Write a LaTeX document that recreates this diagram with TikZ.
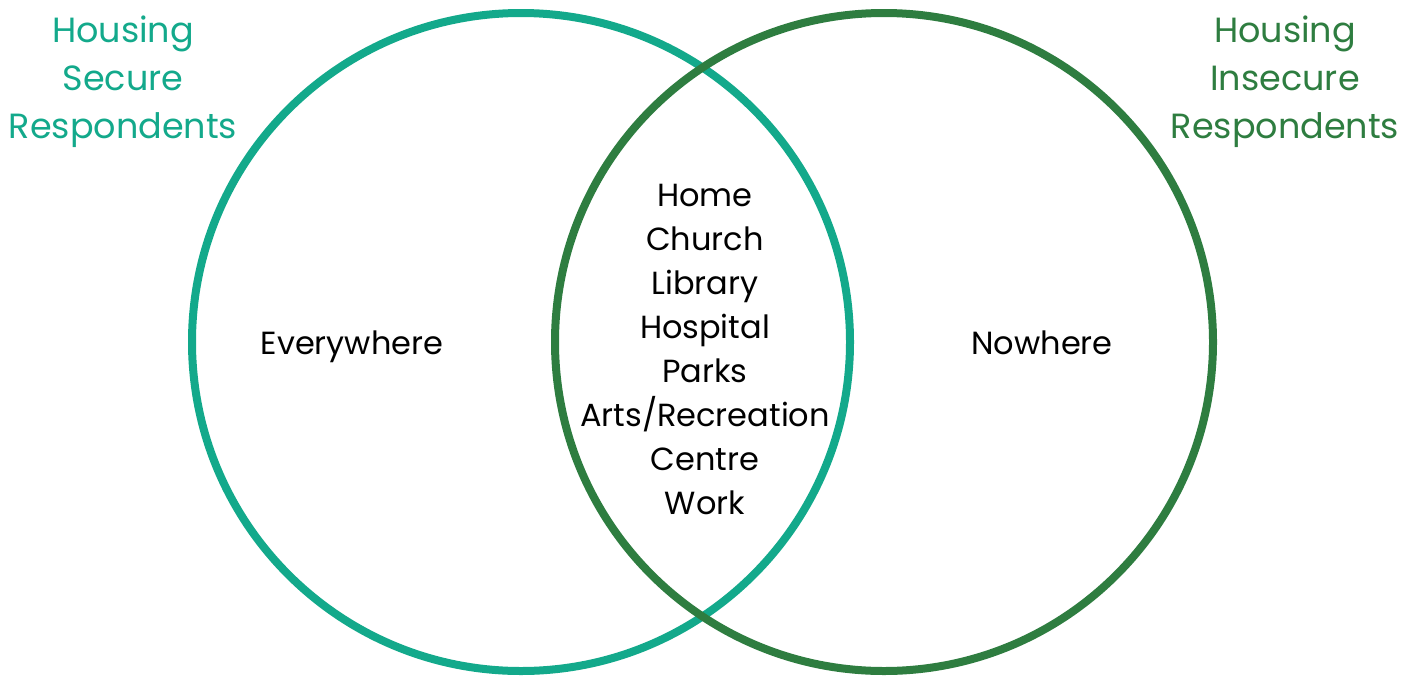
\documentclass[tikz,border=0pt]{standalone}
\usepackage{fontspec}
\setmainfont{Poppins}
\usetikzlibrary{positioning}

\definecolor{secureteal}{HTML}{13A98B}
\definecolor{insecuregreen}{HTML}{2E7D40}

\begin{document}
\begin{tikzpicture}[x=1pt, y=-1pt,
  ring/.style = {draw=#1, line width=8pt, circle, minimum size=658pt,
    inner sep=0pt},
  title/.style = {align=center, font=\fontsize{35}{48}\selectfont},
  place/.style = {align=center, font=\fontsize{32}{44}\selectfont}
  ]
  \useasboundingbox (0,0) rectangle (1418,675);

  \node (secure) [ring=secureteal] at (521,342) {};
  \node (insecure) [ring=insecuregreen] at (884,342) {};

  \node (securetitle) [title, text=secureteal] at (123,82)
    {Housing\\Secure\\Respondents};
  \node (insecuretitle) [title, text=insecuregreen] at (1285,82)
    {Housing\\Insecure\\Respondents};

  \node (everywhere) [place] at (352,347) {Everywhere};
  \node (nowhere) [place] at (1042,343) {Nowhere};
  \node (shared) [place] at (705,349)
    {Home\\Church\\Library\\Hospital\\Parks\\Arts/Recreation\\Centre\\Work};
\end{tikzpicture}
\end{document}
